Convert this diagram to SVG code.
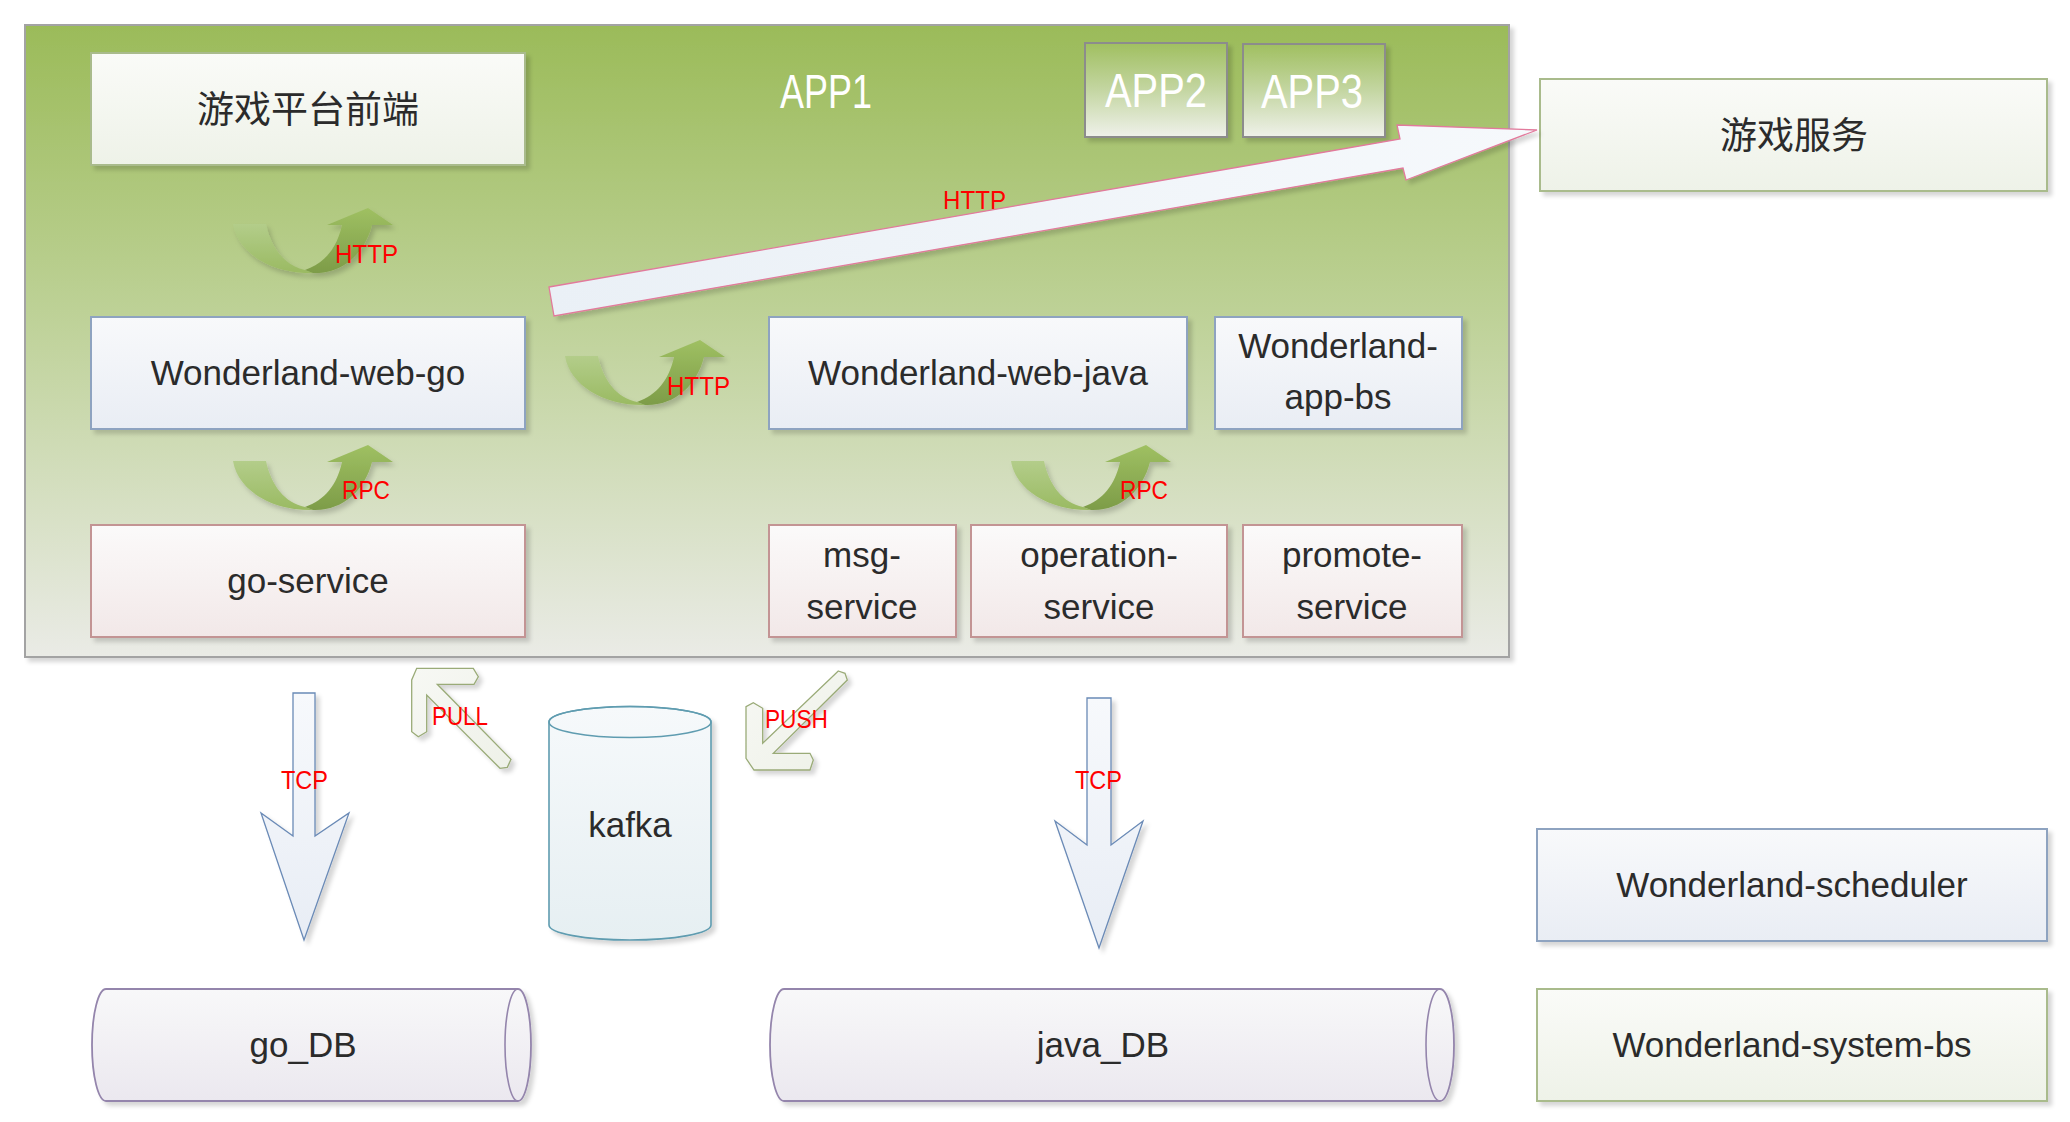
<svg xmlns="http://www.w3.org/2000/svg" width="2070" height="1122" viewBox="0 0 2070 1122">
<defs>
  <linearGradient id="gCont" x1="0" y1="0" x2="0" y2="1">
    <stop offset="0" stop-color="#9bbb59"/>
    <stop offset="0.45" stop-color="#bdd196"/>
    <stop offset="1" stop-color="#eaebe6"/>
  </linearGradient>
  <linearGradient id="gGreenBox" x1="0" y1="0" x2="0" y2="1">
    <stop offset="0" stop-color="#fafbf8"/>
    <stop offset="1" stop-color="#eef2e8"/>
  </linearGradient>
  <linearGradient id="gBlueBox" x1="0" y1="0" x2="0" y2="1">
    <stop offset="0" stop-color="#f8f9fb"/>
    <stop offset="1" stop-color="#e9edf4"/>
  </linearGradient>
  <linearGradient id="gRedBox" x1="0" y1="0" x2="0" y2="1">
    <stop offset="0" stop-color="#fbfafa"/>
    <stop offset="1" stop-color="#f2e8e8"/>
  </linearGradient>
  <linearGradient id="gApp" x1="0" y1="0" x2="0" y2="1">
    <stop offset="0" stop-color="#a0bf60"/>
    <stop offset="0.5" stop-color="#c4d6a2"/>
    <stop offset="1" stop-color="#eff1ea"/>
  </linearGradient>
  <linearGradient id="gDB" x1="0" y1="0" x2="0" y2="1">
    <stop offset="0" stop-color="#f8f8f9"/>
    <stop offset="1" stop-color="#ebe8ef"/>
  </linearGradient>
  <linearGradient id="gKafka" x1="0" y1="0" x2="0" y2="1">
    <stop offset="0" stop-color="#f6f9fb"/>
    <stop offset="1" stop-color="#e6eff2"/>
  </linearGradient>
  <linearGradient id="gBig" x1="0" y1="0" x2="1" y2="0">
    <stop offset="0" stop-color="#eaf0f6"/>
    <stop offset="1" stop-color="#f6f9fc"/>
  </linearGradient>
  <linearGradient id="gTcp" x1="0" y1="0" x2="0" y2="1">
    <stop offset="0" stop-color="#f7f9fc"/>
    <stop offset="1" stop-color="#e8edf5"/>
  </linearGradient>
  <linearGradient id="gPull" x1="0" y1="0" x2="1" y2="1">
    <stop offset="0" stop-color="#f7f8f4"/>
    <stop offset="1" stop-color="#eef1e8"/>
  </linearGradient>
  <linearGradient id="gUL" x1="0" y1="0" x2="0" y2="1">
    <stop offset="0" stop-color="#b3cd8a"/>
    <stop offset="1" stop-color="#9aba62"/>
  </linearGradient>
  <linearGradient id="gUR" x1="0" y1="0" x2="0" y2="1">
    <stop offset="0" stop-color="#9fc062"/>
    <stop offset="1" stop-color="#7d9c48"/>
  </linearGradient>
  <filter id="sh" x="-10%" y="-10%" width="130%" height="130%">
    <feDropShadow dx="4" dy="4" stdDeviation="2" flood-color="#000" flood-opacity="0.16"/>
  </filter>
  <filter id="shU" x="-10%" y="-10%" width="130%" height="140%">
    <feDropShadow dx="3" dy="4" stdDeviation="2.5" flood-color="#000" flood-opacity="0.18"/>
  </filter>
  <path id="uarrow-left" d="M0,16 L33,16 C38,40 52,58 72,62 L80,65 C40,66 5,46 0,16 Z"/>
  <path id="uarrow-right" d="M72,62 C92,55 104,40 109,17 L94,17 L135,0 L160,17 L139,17 C132,45 110,66 80,65 Z"/>
</defs>
<style>
  .node text, .lbl { font-family: "Liberation Sans", "Noto Sans CJK SC", sans-serif; }
  .t { font-size: 35px; fill: #2b2b2b; text-anchor: middle; }
  .cjk { font-family: "Noto Sans CJK SC", "Liberation Sans", sans-serif; font-size: 37px; fill: #2b2b2b; text-anchor: middle; }
  .app { font-size: 48px; fill: #ffffff; text-anchor: middle; }
  .lbl { font-size: 26px; fill: #ff0000; }
  .green { fill: url(#gGreenBox); stroke: #a9bb8c; stroke-width: 2; filter: url(#sh); }
  .blue { fill: url(#gBlueBox); stroke: #8ea3c0; stroke-width: 2; filter: url(#sh); }
  .red { fill: url(#gRedBox); stroke: #c39494; stroke-width: 2; filter: url(#sh); }
  .db { fill: url(#gDB); stroke: #9485ac; stroke-width: 1.8; filter: url(#sh); }
  .tcp { fill: url(#gTcp); stroke: #6a8ab6; stroke-width: 1.3; filter: url(#sh); }
  .pp { fill: url(#gPull); stroke: #9aab78; stroke-width: 1.3; filter: url(#sh); }
</style>

<rect width="2070" height="1122" fill="#ffffff"/>

<g id="app1-container">
  <rect x="25" y="25" width="1484" height="632" fill="url(#gCont)" stroke="#a3a3a3" stroke-width="2" filter="url(#sh)"/>
  <text class="app" x="826" y="108" textLength="92" lengthAdjust="spacingAndGlyphs" style="font-family:'Liberation Sans',sans-serif">APP1</text>
</g>

<g id="app2" class="node">
  <rect x="1085" y="43" width="142" height="94" fill="url(#gApp)" stroke="#8c8c8c" stroke-width="2" filter="url(#sh)"/>
  <text class="app" x="1156" y="107" textLength="102" lengthAdjust="spacingAndGlyphs">APP2</text>
</g>
<g id="app3" class="node">
  <rect x="1243" y="44" width="142" height="93" fill="url(#gApp)" stroke="#8c8c8c" stroke-width="2" filter="url(#sh)"/>
  <text class="app" x="1312" y="108" textLength="102" lengthAdjust="spacingAndGlyphs">APP3</text>
</g>

<g id="game-frontend" class="node">
  <rect class="green" x="91" y="53" width="434" height="112"/>
  <text class="cjk" x="308" y="123">游戏平台前端</text>
</g>

<g id="game-service" class="node">
  <rect class="green" x="1540" y="79" width="507" height="112"/>
  <text class="cjk" x="1794" y="149">游戏服务</text>
</g>

<g id="wonderland-web-go" class="node">
  <rect class="blue" x="91" y="317" width="434" height="112"/>
  <text class="t" x="308" y="385">Wonderland-web-go</text>
</g>

<g id="wonderland-web-java" class="node">
  <rect class="blue" x="769" y="317" width="418" height="112"/>
  <text class="t" x="978" y="385">Wonderland-web-java</text>
</g>

<g id="wonderland-app-bs" class="node">
  <rect class="blue" x="1215" y="317" width="247" height="112"/>
  <text class="t" x="1338" y="358">Wonderland-</text>
  <text class="t" x="1338" y="409">app-bs</text>
</g>

<g id="go-service" class="node">
  <rect class="red" x="91" y="525" width="434" height="112"/>
  <text class="t" x="308" y="593">go-service</text>
</g>

<g id="msg-service" class="node">
  <rect class="red" x="769" y="525" width="187" height="112"/>
  <text class="t" x="862" y="567">msg-</text>
  <text class="t" x="862" y="619">service</text>
</g>

<g id="operation-service" class="node">
  <rect class="red" x="971" y="525" width="256" height="112"/>
  <text class="t" x="1099" y="567">operation-</text>
  <text class="t" x="1099" y="619">service</text>
</g>

<g id="promote-service" class="node">
  <rect class="red" x="1243" y="525" width="219" height="112"/>
  <text class="t" x="1352" y="567">promote-</text>
  <text class="t" x="1352" y="619">service</text>
</g>

<g id="kafka" class="node">
  <path d="M549,722 L549,925 A81,15 0 0 0 711,925 L711,722 A81,15.5 0 0 0 549,722 Z" fill="url(#gKafka)" stroke="#5f9cb0" stroke-width="1.6" filter="url(#sh)"/>
  <ellipse cx="630" cy="722" rx="81" ry="15.5" fill="none" stroke="#5f9cb0" stroke-width="1.6"/>
  <text class="t" x="630" y="837">kafka</text>
</g>

<g id="go-db" class="node">
  <path class="db" d="M106,989 L518,989 A13,56 0 0 1 518,1101 L106,1101 A14,56 0 0 1 106,989 Z"/>
  <path d="M518,989 A13,56 0 0 0 518,1101" fill="none" stroke="#9485ac" stroke-width="1.6"/>
  <text class="t" x="303" y="1057">go_DB</text>
</g>

<g id="java-db" class="node">
  <path class="db" d="M784,989 L1440,989 A14,56 0 0 1 1440,1101 L784,1101 A14,56 0 0 1 784,989 Z"/>
  <path d="M1440,989 A14,56 0 0 0 1440,1101" fill="none" stroke="#9485ac" stroke-width="1.6"/>
  <text class="t" x="1103" y="1057">java_DB</text>
</g>

<g id="wonderland-scheduler" class="node">
  <rect class="blue" x="1537" y="829" width="510" height="112"/>
  <text class="t" x="1792" y="897">Wonderland-scheduler</text>
</g>

<g id="wonderland-system-bs" class="node">
  <rect class="green" x="1537" y="989" width="510" height="112"/>
  <text class="t" x="1792" y="1057">Wonderland-system-bs</text>
</g>

<g id="connectors">
  <!-- U-turn arrows -->
  <g transform="translate(233,208)" filter="url(#shU)">
    <use href="#uarrow-left" fill="url(#gUL)"/>
    <use href="#uarrow-right" fill="url(#gUR)"/>
  </g>
  <g transform="translate(565,340)" filter="url(#shU)">
    <use href="#uarrow-left" fill="url(#gUL)"/>
    <use href="#uarrow-right" fill="url(#gUR)"/>
  </g>
  <g transform="translate(233,445)" filter="url(#shU)">
    <use href="#uarrow-left" fill="url(#gUL)"/>
    <use href="#uarrow-right" fill="url(#gUR)"/>
  </g>
  <g transform="translate(1011,445)" filter="url(#shU)">
    <use href="#uarrow-left" fill="url(#gUL)"/>
    <use href="#uarrow-right" fill="url(#gUR)"/>
  </g>

  <!-- big HTTP arrow to 游戏服务 -->
  <polygon points="549,287 1400,139 1397,125 1537,130 1406,180 1403,168 554,316" fill="url(#gBig)" stroke="#e27a9c" stroke-width="1.3" filter="url(#sh)"/>

  <!-- TCP arrows -->
  <polygon class="tcp" points="293,693 315,693 315,836 349,813 304,940 261,813 293,836"/>
  <polygon class="tcp" points="1087,698 1111,698 1111,845 1143,821 1099,948 1055,821 1087,845"/>

  <!-- PULL arrow (kafka to go-service) -->
  <polygon class="pp" points="416.7,668.3 473.3,668.3 478.3,676.7 474,684.3 437.3,684.3 511,759.3 507.3,767.3 500,768.3 426.7,695 426.7,731.7 418.3,736.7 411.7,731.7 411.7,680"/>
  <!-- PUSH arrow (msg-service to kafka) -->
  <polygon class="pp" points="838.3,671 845,673.3 847.3,680 773.3,753.3 810,753.3 813.3,760 810,770 754,770 746,758.3 746,706.7 753.3,702.7 762.7,708.3 762.7,743.3"/>

  <!-- labels -->
  <text class="lbl" x="335" y="263" textLength="63" lengthAdjust="spacingAndGlyphs">HTTP</text>
  <text class="lbl" x="667" y="395" textLength="63" lengthAdjust="spacingAndGlyphs">HTTP</text>
  <text class="lbl" x="943" y="209" textLength="63" lengthAdjust="spacingAndGlyphs">HTTP</text>
  <text class="lbl" x="342" y="499" textLength="48" lengthAdjust="spacingAndGlyphs">RPC</text>
  <text class="lbl" x="1120" y="499" textLength="48" lengthAdjust="spacingAndGlyphs">RPC</text>
  <text class="lbl" x="281" y="789" textLength="47" lengthAdjust="spacingAndGlyphs">TCP</text>
  <text class="lbl" x="1075" y="789" textLength="47" lengthAdjust="spacingAndGlyphs">TCP</text>
  <text class="lbl" x="432" y="725" textLength="56" lengthAdjust="spacingAndGlyphs">PULL</text>
  <text class="lbl" x="765" y="728" textLength="63" lengthAdjust="spacingAndGlyphs">PUSH</text>
</g>
</svg>
